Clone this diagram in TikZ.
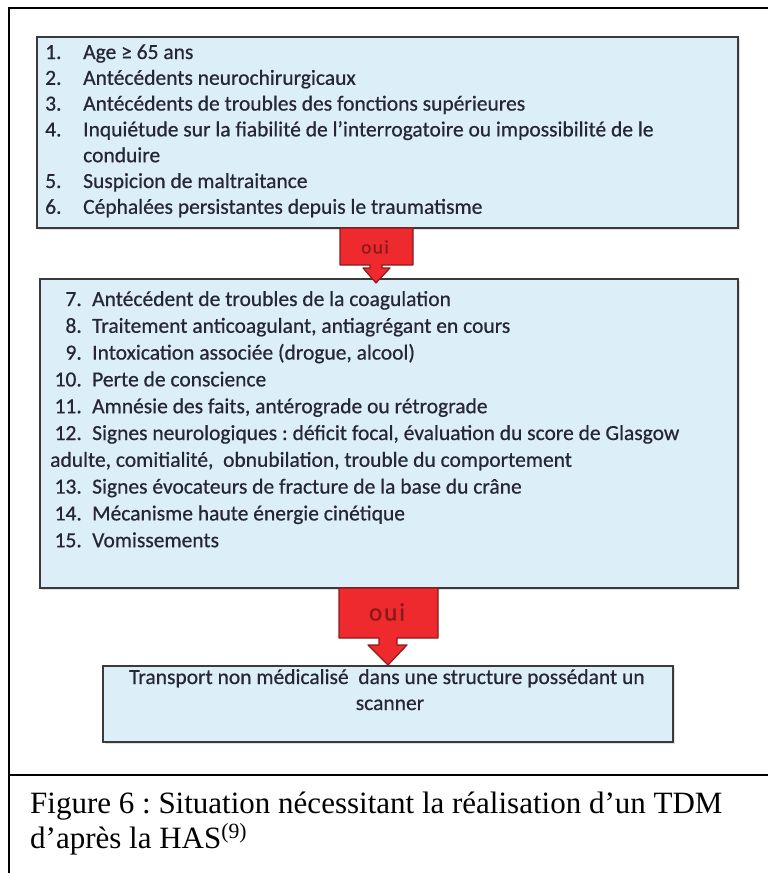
\documentclass[tikz,border=0pt]{standalone}
\usepackage{fontspec}
\setmainfont{Liberation Serif}
\newfontfamily\boxfont[FakeBold=0.6]{Carlito}
\newfontfamily\ouifont[LetterSpace=8,FakeBold=0.8]{Carlito}
\definecolor{boxfill}{HTML}{DCEFF8}
\definecolor{boxline}{HTML}{3A3A3A}
\definecolor{ouired}{HTML}{EE2A2E}
\definecolor{ouiline}{HTML}{8A1C1C}
\definecolor{ouitext}{HTML}{8A1A1A}
\definecolor{itemtext}{HTML}{262636}
\tikzset{
  framerule/.style={line width=2.2pt, black},
  listbox/.style={draw=boxline, fill=boxfill, line width=1.6pt, rectangle, inner sep=0pt},
  shadowbox/.style={fill=black, opacity=0.12},
  itemnum/.style={inner sep=0pt, font=\boxfont\fontsize{21.5}{24}\selectfont, text=itemtext},
  itemtxt/.style={inner sep=0pt, anchor=base west, font=\boxfont\fontsize{21.5}{24}\selectfont, text=itemtext},
  ouiarrow/.style={fill=ouired, draw=ouiline, line width=1.2pt, line join=round},
  ouilabel/.style={inner sep=0pt, text=ouitext, font=\ouifont\fontsize{#1}{#1}\selectfont},
  caption/.style={inner sep=0pt, anchor=base west, font=\fontsize{31}{34}\selectfont}
}
\frenchspacing
\begin{document}
\begin{tikzpicture}[x=1pt,y=-1pt]
\useasboundingbox (0,0) rectangle (768,873);

% outer frame and caption rule
\draw[framerule] (768,8) -- (9,8) -- (9,873);
\draw[framerule] (9,775) -- (768,775);

% boxes (with a faint drop shadow)
\fill[shadowbox] (39,39) rectangle (740,230);
\fill[shadowbox] (42,281) rectangle (740,590);
\fill[shadowbox] (105,668) rectangle (675,744);
\draw[listbox] (37,37) rectangle (738,228);
\draw[listbox] (40,279) rectangle (738,588);
\draw[listbox] (103,666) rectangle (673,742);
\coordinate (tipB) at (376,283);
\coordinate (tipC) at (388,665);

% first list
\foreach \n/\t [count=\i from 0] in {
  1./{Age \char"2265{} 65 ans},
  2./{Antécédents neurochirurgicaux},
  3./{Antécédents de troubles des fonctions supérieures},
  4./{Inquiétude sur la fiabilité de l’interrogatoire ou impossibilité de le}}
{
  \node[itemnum, anchor=base west] (na\i) at (45,{59+25.8*\i}) {\n};
  \node[itemtxt] (ta\i) at (83,{59+25.8*\i}) {\t};
}
\node[itemtxt] (ta4) at (83,{59+25.8*4}) {conduire};
\node[itemnum, anchor=base west] (na5) at (45,{59+25.8*5}) {5.};
\node[itemtxt] (ta5) at (83,{59+25.8*5}) {Suspicion de maltraitance};
\node[itemnum, anchor=base west] (na6) at (45,{59+25.8*6}) {6.};
\node[itemtxt] (ta6) at (83,{59+25.8*6}) {Céphalées persistantes depuis le traumatisme};

% second list
\foreach \n/\t [count=\i from 0] in {
  7./{Antécédent de troubles de la coagulation},
  8./{Traitement anticoagulant, antiagrégant en cours},
  9./{Intoxication associée (drogue, alcool)},
  10./{Perte de conscience},
  11./{Amnésie des faits, antérograde ou rétrograde},
  12./{Signes neurologiques : déficit focal, évaluation du score de Glasgow}}
{
  \node[itemnum, anchor=base east] (nb\i) at (82,{306+26.8*\i}) {\n};
  \node[itemtxt] (tb\i) at (92,{306+26.8*\i}) {\t};
}
\node[itemtxt] (tb6) at (50,{306+26.8*6}) {adulte, comitialité,\ \ obnubilation, trouble du comportement};
\foreach \n/\t [count=\i from 7] in {
  13./{Signes évocateurs de fracture de la base du crâne},
  14./{Mécanisme haute énergie cinétique},
  15./{Vomissements}}
{
  \node[itemnum, anchor=base east] (nb\i) at (82,{306+26.8*\i}) {\n};
  \node[itemtxt] (tb\i) at (92,{306+26.8*\i}) {\t};
}

% last box
\node[itemtxt, anchor=base] (tc1) at (387,684) {Transport non médicalisé\ \ dans une structure possédant un};
\node[itemtxt, anchor=base] (tc2) at (390,710) {scanner};

% "oui" arrows
\draw[ouiarrow] (340,228) -- (413,228) -- (413,265) -- (382,265) -- (382,268) -- (390,268)
  -- (tipB) -- (363,268) -- (370,268) -- (370,265) -- (340,265) -- cycle;
\node[ouilabel=19] (oui1) at (375,247) {oui};
\draw[ouiarrow] (339,588) -- (438,588) -- (438,638) -- (397,638) -- (397,645) -- (407,645)
  -- (tipC) -- (368,645) -- (379,645) -- (379,638) -- (339,638) -- cycle;
\node[ouilabel=25] (oui2) at (387,612) {oui};

% caption
\node[caption] (cap1) at (30,813) {Figure 6 : Situation nécessitant la réalisation d’un TDM};
\node[caption] (cap2) at (30,848) {d’après la HAS\textsuperscript{(9)}};
\end{tikzpicture}
\end{document}
